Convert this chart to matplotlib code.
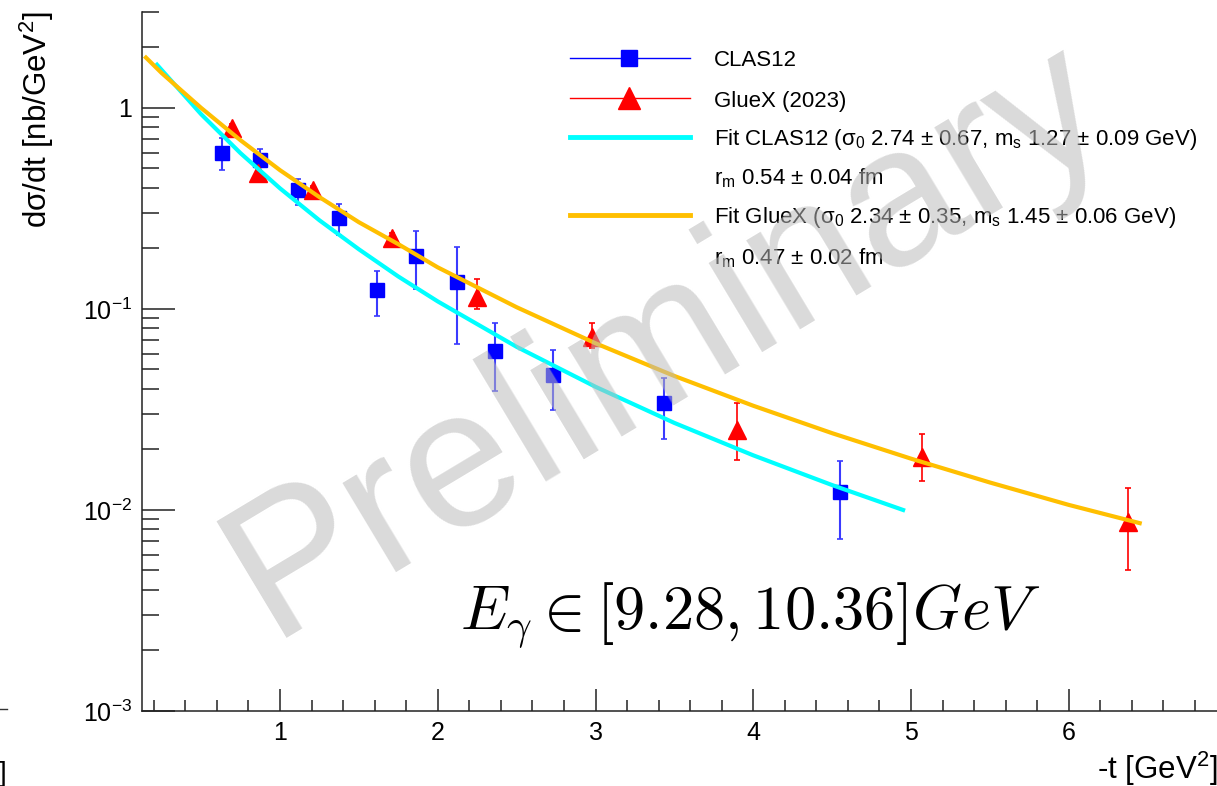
import matplotlib
matplotlib.use("Agg")
import matplotlib.pyplot as plt
from matplotlib.lines import Line2D
from matplotlib.ticker import FixedLocator, FixedFormatter, MultipleLocator
import numpy as np

plt.rcParams['font.family'] = ['Liberation Sans', 'DejaVu Sans']
plt.rcParams['mathtext.fontset'] = 'custom'
plt.rcParams['mathtext.rm'] = 'Liberation Sans'
plt.rcParams['mathtext.it'] = 'Liberation Sans'
plt.rcParams['mathtext.bf'] = 'Liberation Sans:bold'

# CLAS12 points (-t, dsigma/dt, upper / lower ends of error bars)
clas_t = [0.633, 0.875, 1.115, 1.374, 1.615, 1.862, 2.122, 2.364, 2.731, 3.436, 4.547]
clas_y = [0.597, 0.551, 0.391, 0.284, 0.124, 0.184, 0.136, 0.0618, 0.047, 0.034, 0.0123]
clas_hi = [0.71, 0.625, 0.443, 0.333, 0.154, 0.244, 0.204, 0.085, 0.0625, 0.0454, 0.0175]
clas_lo = [0.49, 0.48, 0.329, 0.233, 0.092, 0.126, 0.067, 0.039, 0.0314, 0.0225, 0.0072]

# GlueX (2023) points
gluex_t = [0.697, 0.862, 1.211, 1.711, 2.248, 2.978, 3.897, 5.071, 6.378]
gluex_y = [0.795, 0.475, 0.391, 0.226, 0.115, 0.0726, 0.025, 0.0184, 0.0087]
gluex_hi = [0.83, 0.50, 0.41, 0.24, 0.141, 0.085, 0.034, 0.0239, 0.0129]
gluex_lo = [0.76, 0.45, 0.37, 0.21, 0.100, 0.064, 0.0178, 0.0139, 0.0050]

# fit curves
fit_clas_t = [0.22, 0.5, 0.75, 1.0, 1.25, 1.5, 1.75, 2.0, 2.5, 3.0, 3.5, 4.0, 4.5, 4.95]
fit_clas_y = [1.64, 0.93, 0.595, 0.398, 0.276, 0.198, 0.145, 0.109, 0.0648, 0.041,
              0.0271, 0.0187, 0.0133, 0.0100]
fit_gluex_t = [0.15, 0.25, 0.5, 0.75, 1.0, 1.25, 1.5, 1.75, 2.0, 2.5, 3.0, 3.5, 4.0,
               4.5, 5.0, 5.5, 6.0, 6.45]
fit_gluex_y = [1.78, 1.49, 1.00, 0.69, 0.49, 0.36, 0.27, 0.21, 0.161, 0.102, 0.0675,
               0.0464, 0.033, 0.0241, 0.018, 0.0137, 0.0106, 0.0086]

legend_labels = ['CLAS12', 'GlueX (2023)',
                 r'Fit CLAS12 ($\sigma_0$ 2.74 ± 0.67, $m_s$ 1.27 ± 0.09 GeV)',
                 r'$r_m$ 0.54 ± 0.04 fm',
                 r'Fit GlueX ($\sigma_0$ 2.34 ± 0.35, $m_s$ 1.45 ± 0.06 GeV)',
                 r'$r_m$ 0.47 ± 0.02 fm']

W, H = 1217, 786
fig = plt.figure(figsize=(W / 100, H / 100), dpi=100)
ax = fig.add_axes([142 / W, 75 / H, 1 - 142 / W, (711 - 12) / H])

blue = '#0000ff'
red = '#ff0000'
cyan = '#00ffff'
orange = '#ffbf00'

def errs(y, lo, hi):
    y = np.array(y)
    return [y - np.array(lo), np.array(hi) - y]

ax.errorbar(clas_t, clas_y, yerr=errs(clas_y, clas_lo, clas_hi), fmt='s', color=blue,
            ecolor='#3a3aff', ms=10.5, elinewidth=1.5, capsize=2.5, capthick=1.2, zorder=3)
ax.errorbar(gluex_t, gluex_y, yerr=errs(gluex_y, gluex_lo, gluex_hi), fmt='^', color=red,
            ecolor=red, ms=13.5, elinewidth=1.2, capsize=2.5, capthick=1.2, zorder=3)
ax.plot(fit_clas_t, fit_clas_y, color=cyan, lw=3, zorder=4)
ax.plot(fit_gluex_t, fit_gluex_y, color=orange, lw=3, zorder=4)

ax.set_yscale('log')
ax.set_xlim(0.125, 6.94)
ax.set_ylim(1e-3, 3.0)

for s in ['top', 'right']:
    ax.spines[s].set_visible(False)
for s in ['left', 'bottom']:
    ax.spines[s].set_linewidth(1.1)
    ax.spines[s].set_color('#222222')

ax.yaxis.set_major_locator(FixedLocator([1e-3, 1e-2, 1e-1, 1]))
ax.yaxis.set_major_formatter(FixedFormatter([r'$10^{-3}$', r'$10^{-2}$', r'$10^{-1}$', '1']))
ax.yaxis.set_minor_locator(FixedLocator([m * 10.0 ** e for e in range(-3, 1) for m in range(2, 10)]))
ax.yaxis.set_minor_formatter(FixedFormatter([]))
ax.xaxis.set_major_locator(FixedLocator([1, 2, 3, 4, 5, 6]))
ax.xaxis.set_minor_locator(MultipleLocator(0.2))

ax.tick_params(axis='y', which='major', direction='in', length=24, width=1.1, pad=7,
               labelsize=18, color='#222222')
ax.tick_params(axis='y', which='minor', direction='in', length=12, width=1.1, color='#222222')
ax.tick_params(axis='x', which='major', direction='in', length=16, width=1.1, pad=7,
               labelsize=18, color='#222222')
ax.tick_params(axis='x', which='minor', direction='in', length=8, width=1.1, color='#222222')

fig.text(37 / W, 1 - 12 / H, r'd$\sigma$/dt [nb/GeV$^{2}$]', rotation=90, ha='center',
         va='top', fontsize=22.5)
fig.text(1218 / W, 1 - 779 / H, r'-t [GeV$^{2}$]', ha='right', va='baseline', fontsize=22.5)

# energy range label
fig.text(460 / W, 1 - 628 / H, r'$E_\gamma \in [9.28, 10.36] GeV$', fontsize=45,
         math_fontfamily='cm', ha='left', va='baseline')

# legend, drawn by hand in ROOT style
rows = [58, 98, 137, 176, 215, 256]
handles = [('s', blue, 1), ('^', red, 1), (None, cyan, 3.5), None, (None, orange, 3.5), None]
for yy, lab, hd in zip(rows, legend_labels, handles):
    fy = 1 - yy / H
    if hd is not None:
        mk, col, lw = hd
        fig.add_artist(Line2D([570 / W, 690 / W], [fy, fy], color=col, lw=lw,
                              transform=fig.transFigure))
        if mk is not None:
            fig.add_artist(Line2D([629 / W], [fy], marker=mk, color=col,
                                  ms=12 if mk == 's' else 15.5, transform=fig.transFigure))
    fig.text(714 / W, 1 - (yy + 8.5) / H, lab, fontsize=16, ha='left', va='baseline')

# artefacts of the neighbouring panel at the left border
fig.add_artist(Line2D([0, 7 / W], [1 - 709 / H, 1 - 709 / H], color='#333333', lw=1,
                      transform=fig.transFigure))
fig.text(-1 / W, 1 - 781 / H, ']', fontsize=20, ha='left', va='baseline')

# watermark
fig.text(667 / W, 1 - 340 / H, 'Preliminary', fontsize=142, rotation=31,
         rotation_mode='anchor', ha='center', va='center', color='#bababa', alpha=0.54,
         zorder=10)

fig.savefig('out.png', dpi=100)
